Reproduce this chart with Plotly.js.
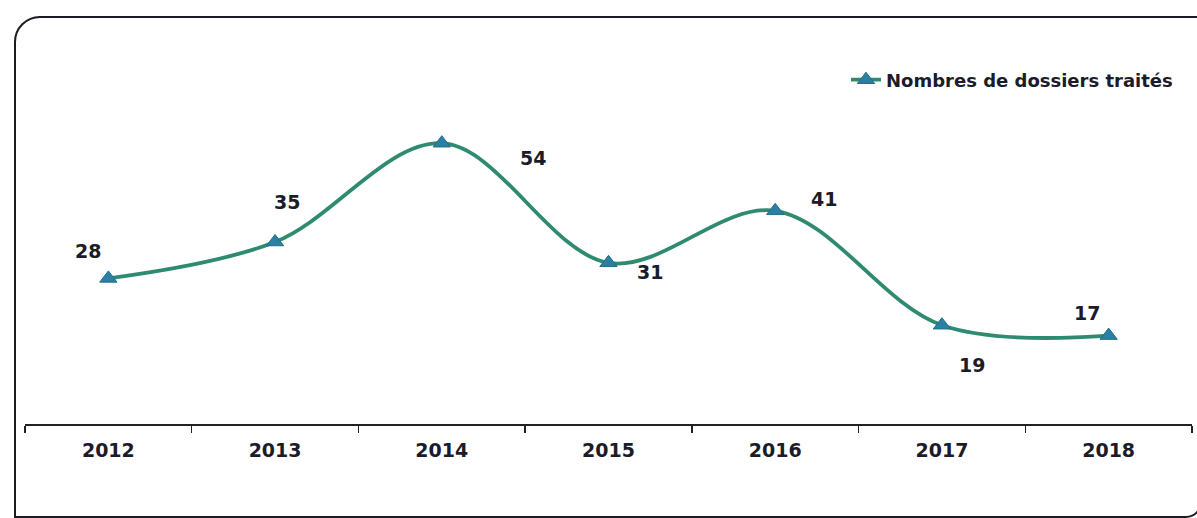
<!DOCTYPE html>
<html>
<head>
<meta charset="utf-8">
<script src="https://cdn.plot.ly/plotly-3.0.1.min.js"></script>
<style>
  html, body { margin: 0; padding: 0; background: #ffffff; }
  #wrap { position: relative; width: 1197px; height: 518px; overflow: hidden; }
  #frame {
    position: absolute; left: 14px; top: 16px;
    width: 1184px; height: 498px;
    border: 2px solid #1c1a22;
    border-radius: 26px 0 16px 0;
    box-sizing: content-box;
  }
  #chart { position: absolute; left: 0; top: 0; width: 1197px; height: 518px; }
</style>
</head>
<body>
<div id="wrap">
  <div id="frame"></div>
  <div id="chart"></div>
</div>
<script>
// Années et nombre de dossiers traités
const years = ["2012", "2013", "2014", "2015", "2016", "2017", "2018"];
const dossiers = [28, 35, 54, 31, 41, 19, 17];
const seriesName = "Nombres de dossiers traités";

// Décalage (px) de chaque étiquette de valeur par rapport à son point
const labelDx = [-20, 12, 91, 41, 49, 30, -22];
const labelDy = [27, 40, -15, -9, 12, -40, 23];

const textColor = "#1b1b2a";
const font = { family: "DejaVu Sans, sans-serif", size: 19, color: textColor, weight: "bold" };

const trace = {
  x: years,
  y: dossiers,
  name: seriesName,
  type: "scatter",
  mode: "lines+markers",
  line: { shape: "spline", smoothing: 1, color: "#2e8a70", width: 3.8 },
  marker: { symbol: "triangle-up", size: 15, color: "#2a7fa2",
            line: { color: "#1f6f8c", width: 1 } },
  hoverinfo: "x+y"
};

// Les catégories ressemblent à des nombres : on place les étiquettes par indice
const annotations = years.map((yr, i) => ({
  x: i, y: dossiers[i], xref: "x", yref: "y",
  text: String(dossiers[i]), showarrow: false,
  xshift: labelDx[i], yshift: labelDy[i],
  font: font
}));

const layout = {
  width: 1197, height: 518,
  margin: { l: 25, r: 5, t: 60, b: 94 },
  paper_bgcolor: "rgba(0,0,0,0)",
  plot_bgcolor: "rgba(0,0,0,0)",
  showlegend: true,
  legend: {
    x: 0.988, xanchor: "right", y: 0.945, yanchor: "middle",
    font: { family: "DejaVu Sans, sans-serif", size: 18, color: textColor, weight: "bold" },
    bgcolor: "rgba(0,0,0,0)"
  },
  xaxis: {
    type: "category",
    categoryorder: "array", categoryarray: years,
    range: [-0.5, years.length - 0.5],
    showline: true, linecolor: "#222", linewidth: 1.5,
    ticks: "outside", ticklen: 7, tickcolor: "#222", tickwidth: 1.5,
    tickson: "boundaries",
    tickangle: 0,
    showgrid: false, zeroline: false,
    tickfont: font,
    ticklabelstandoff: 9
  },
  yaxis: {
    visible: false, range: [0, 70], showgrid: false, zeroline: false
  },
  annotations: annotations
};

Plotly.newPlot("chart", [trace], layout, { displayModeBar: false, staticPlot: true });
</script>
</body>
</html>
